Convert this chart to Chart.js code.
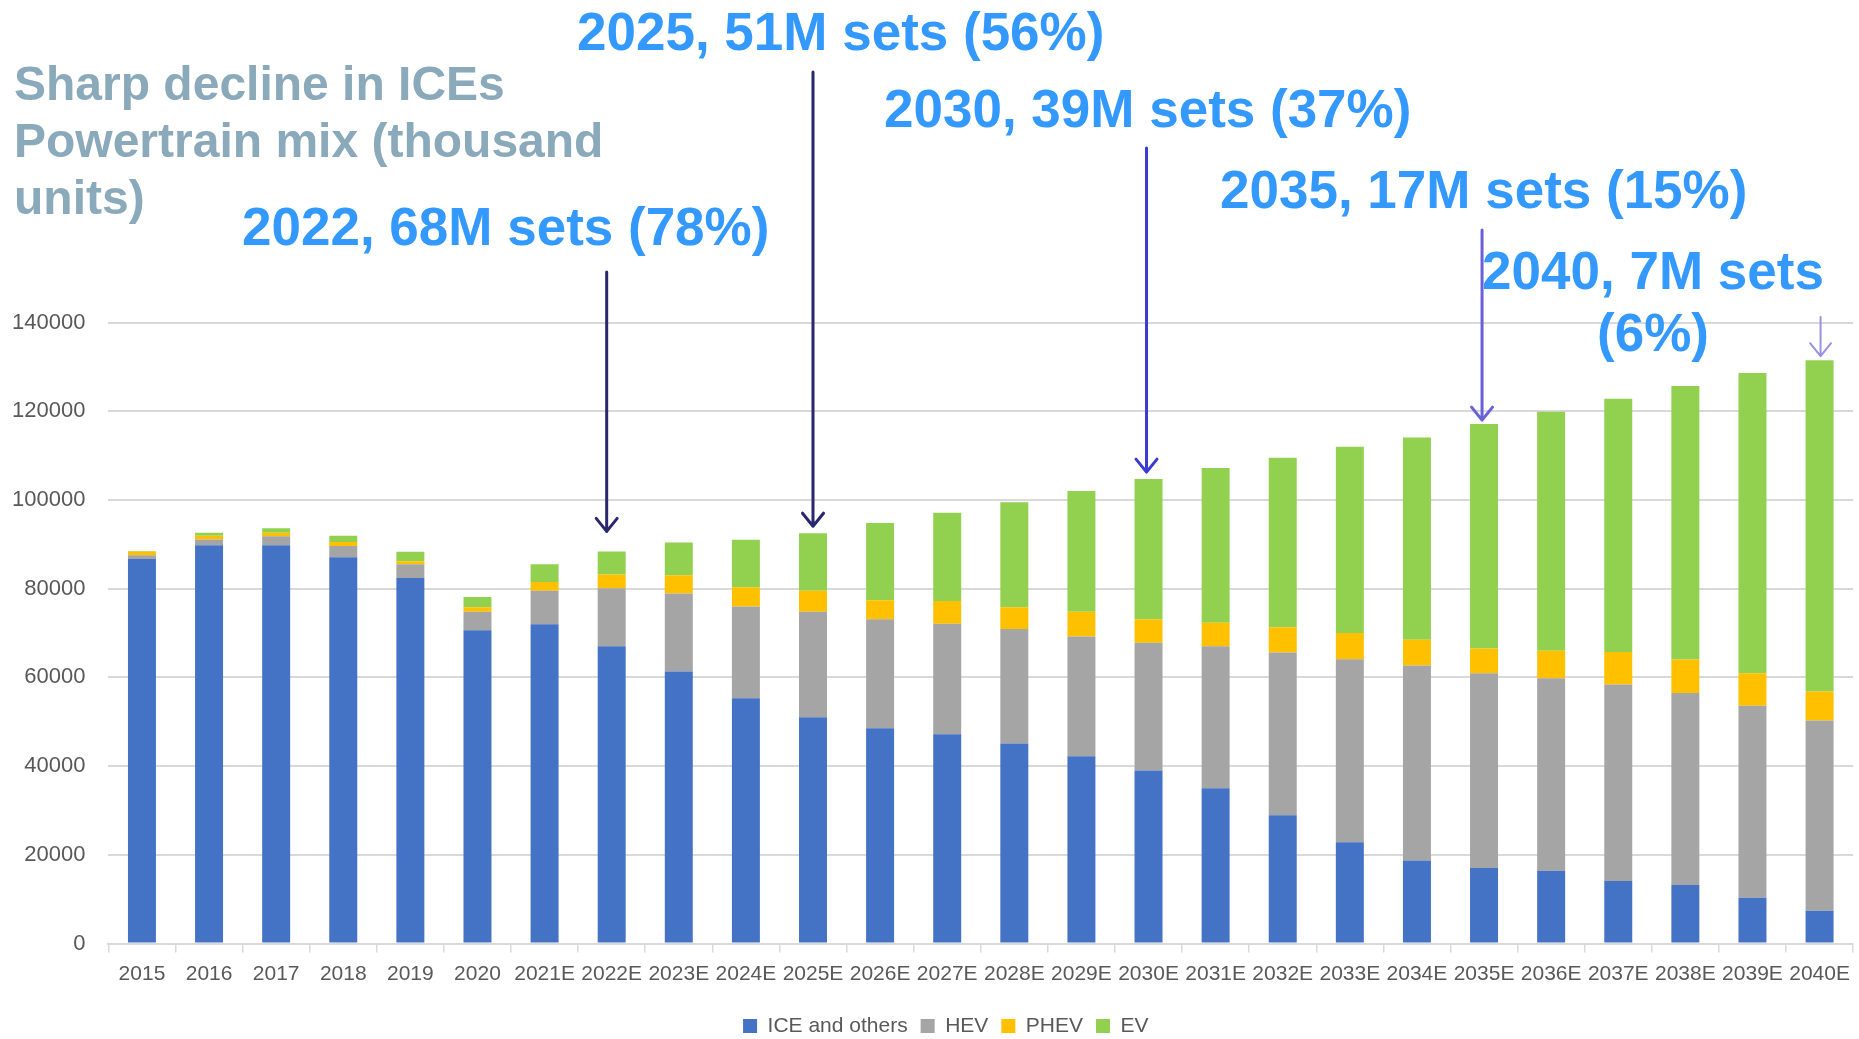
<!DOCTYPE html>
<html>
<head>
<meta charset="utf-8">
<title>Powertrain mix</title>
<script src="https://cdn.jsdelivr.net/npm/chart.js@4.4.1/dist/chart.umd.min.js"></script>
<style>
  html, body { margin: 0; padding: 0; background: #fff; }
  canvas { display: block; }
</style>
</head>
<body>
<canvas id="chart" width="1859" height="1039"></canvas>
<script>
// thousand units per year
const years = ["2015", "2016", "2017", "2018", "2019", "2020", "2021E", "2022E", "2023E", "2024E",
  "2025E", "2026E", "2027E", "2028E", "2029E", "2030E", "2031E", "2032E", "2033E", "2034E",
  "2035E", "2036E", "2037E", "2038E", "2039E", "2040E"];

const ice = [86700, 89800, 89800, 87100, 82400, 70600, 72000, 67000, 61300, 55300,
  51000, 48500, 47200, 45100, 42200, 39000, 35000, 28900, 22800, 18700,
  17000, 16400, 14100, 13200, 10300, 7400];
const hev = [850, 1300, 2000, 2500, 3100, 4200, 7500, 13100, 17600, 20700,
  23800, 24600, 24900, 25800, 27000, 28800, 32000, 36700, 41300, 44000,
  43900, 43400, 44300, 43300, 43300, 42900];
const phev = [800, 800, 800, 900, 700, 1000, 2000, 3100, 4100, 4300,
  4700, 4300, 5100, 4900, 5600, 5300, 5300, 5700, 5900, 5800,
  5600, 6200, 7300, 7500, 7300, 6500];
const ev = [150, 700, 1000, 1400, 2100, 2300, 4000, 5200, 7400, 10700,
  13000, 17400, 19900, 23700, 27200, 31600, 34900, 38200, 42000, 45600,
  50600, 53900, 57100, 61700, 67700, 74700];

const seriesNames = ["ICE and others", "HEV", "PHEV", "EV"];
const seriesColors = ["#4472C4", "#A5A5A5", "#FFC000", "#92D050"];

const titleLines = ["Sharp decline in ICEs", "Powertrain mix (thousand", "units)"];

// callout text, and the year its arrow points at
const callouts = [
  { text: ["2022, 68M sets (78%)"], year: "2022E" },
  { text: ["2025, 51M sets (56%)"], year: "2025E" },
  { text: ["2030, 39M sets (37%)"], year: "2030E" },
  { text: ["2035, 17M sets (15%)"], year: "2035E" },
  { text: ["2040, 7M sets", "(6%)"], year: "2040E" }
];

// layout of the callouts (canvas pixels)
const calloutStyle = [
  { x: 242, y: [245], align: "left", top: 272, gap: 20, dx: -5, color: "#29286e", lw: 3 },
  { x: 577, y: [50], align: "left", top: 72, gap: 7, dx: 0, color: "#29286e", lw: 3 },
  { x: 884, y: [127], align: "left", top: 148, gap: 7, dx: -2, color: "#3b3bd4", lw: 3 },
  { x: 1220, y: [208], align: "left", top: 230, gap: 4, dx: -2, color: "#6a60d8", lw: 3 },
  { x: 1653, y: [289, 351], align: "center", top: 317, gap: 4, dx: 1, color: "#9a91e4", lw: 2 }
];

const totals = years.map((_, i) => ice[i] + hev[i] + phev[i] + ev[i]);

const annotations = {
  id: "annotations",
  afterLayout(chart) {
    // legend sits a little right of the canvas centre
    chart.legend.left += 18;
    chart.legend.right += 18;
  },
  afterDraw(chart) {
    const ctx = chart.ctx;
    const xs = chart.scales.x;
    const ys = chart.scales.y;
    ctx.save();
    ctx.textBaseline = "alphabetic";

    ctx.fillStyle = "#8AA9BA";
    ctx.font = "bold 48px 'Liberation Sans', Arial, sans-serif";
    ctx.textAlign = "left";
    titleLines.forEach((t, i) => ctx.fillText(t, 14, 100 + i * 56.8));

    ctx.font = "bold 53px 'Liberation Sans', Arial, sans-serif";
    callouts.forEach((c, k) => {
      const s = calloutStyle[k];
      ctx.fillStyle = "#3399FF";
      ctx.textAlign = s.align;
      c.text.forEach((t, i) => ctx.fillText(t, s.x, s.y[i]));

      const idx = years.indexOf(c.year);
      const x = xs.getPixelForValue(idx) + s.dx;
      const tip = ys.getPixelForValue(totals[idx]) - s.gap;
      ctx.strokeStyle = s.color;
      ctx.lineWidth = s.lw;
      ctx.lineCap = "round";
      ctx.lineJoin = "round";
      ctx.beginPath();
      ctx.moveTo(x, s.top);
      ctx.lineTo(x, tip);
      ctx.moveTo(x - 10.5, tip - 13);
      ctx.lineTo(x, tip);
      ctx.lineTo(x + 10.5, tip - 13);
      ctx.stroke();
    });
    ctx.restore();
  }
};

const labelColor = "#595959";
const gridColor = "#D9D9D9";

new Chart(document.getElementById("chart"), {
  type: "bar",
  data: {
    labels: years,
    datasets: [ice, hev, phev, ev].map((d, i) => ({
      label: seriesNames[i],
      data: d,
      backgroundColor: seriesColors[i],
      borderWidth: 0,
      barPercentage: 0.417,
      categoryPercentage: 1
    }))
  },
  options: {
    responsive: false,
    animation: false,
    devicePixelRatio: 1,
    layout: { padding: { top: 322.5, left: 0, right: 3.4, bottom: -7.5 } },
    plugins: {
      legend: {
        position: "bottom",
        labels: {
          boxWidth: 14,
          boxHeight: 14,
          padding: 13,
          color: labelColor,
          font: { family: "'Liberation Sans', Arial, sans-serif", size: 21 }
        }
      },
      tooltip: { enabled: false }
    },
    scales: {
      x: {
        stacked: true,
        afterFit: (s) => { s.height = 59; },
        grid: { offset: true, drawOnChartArea: false, drawTicks: true, tickLength: 9, color: gridColor, lineWidth: 1.5 },
        border: { color: gridColor, width: 2 },
        ticks: {
          autoSkip: false,
          maxRotation: 0,
          padding: 9,
          color: labelColor,
          font: { family: "'Liberation Sans', Arial, sans-serif", size: 21 }
        }
      },
      y: {
        stacked: true,
        min: 0,
        max: 140000,
        afterFit: (s) => { s.width = 108.4; },
        grid: { color: gridColor, lineWidth: 2, drawTicks: false },
        border: { display: false },
        ticks: {
          stepSize: 20000,
          padding: 23,
          color: labelColor,
          font: { family: "'Liberation Sans', Arial, sans-serif", size: 22 },
          callback: (v) => String(v)
        }
      }
    }
  },
  plugins: [annotations]
});
</script>
</body>
</html>
